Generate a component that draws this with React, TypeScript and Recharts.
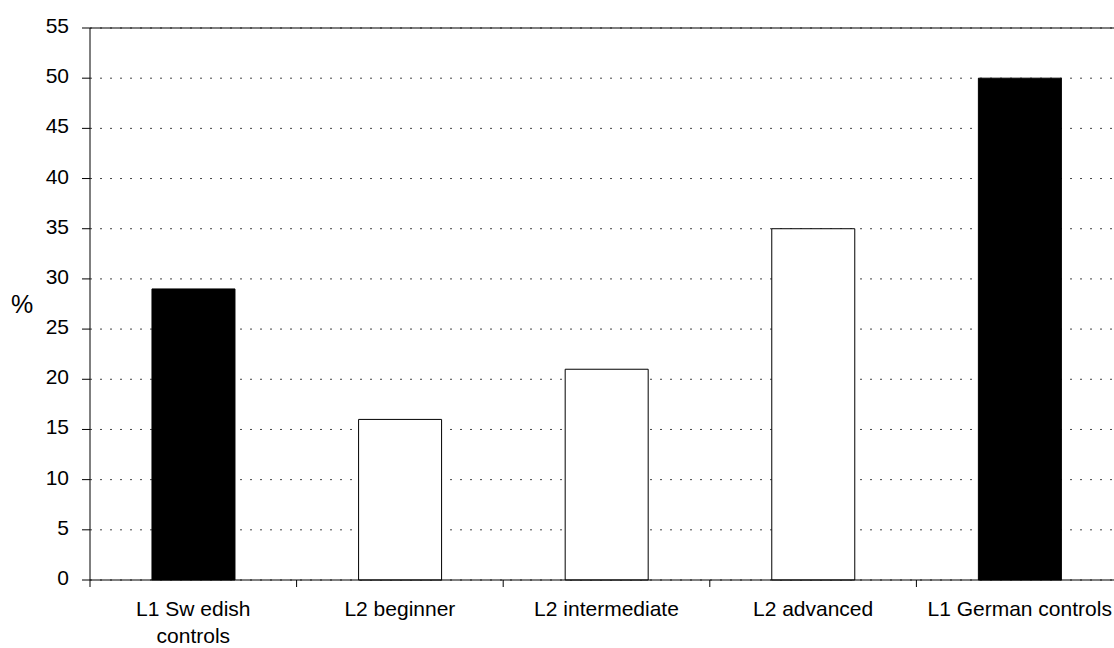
import { Bar, BarChart, CartesianGrid, Cell, ReferenceLine, XAxis, YAxis } from 'recharts';

/* ─────────────────────── data ─────────────────────── */

const categories = [
  'L1 Sw edish\ncontrols',
  'L2 beginner',
  'L2 intermediate',
  'L2 advanced',
  'L1 German controls',
];
const groups = ['L1', 'L2', 'L2', 'L2', 'L1'];
const percentValues = [29, 16, 21, 35, 50];
const yTicks = [0, 5, 10, 15, 20, 25, 30, 35, 40, 45, 50, 55];

const chartData = categories.map((name, i) => ({
  name,
  group: groups[i],
  value: percentValues[i],
}));

/* ─────────────────────── layout ─────────────────────── */

const CHART_W = 1130;
const CHART_H = 648;
const Y_AXIS_W = 90;
const MARGIN = { top: 28, right: 7, left: 0, bottom: 0 };
const CAT_W = (CHART_W - Y_AXIS_W - MARGIN.left - MARGIN.right) / categories.length;
const FONT = '"Liberation Sans", Arial, sans-serif';

interface TickProps {
  x?: number;
  y?: number;
  payload?: { value: string | number; index?: number };
  index?: number;
}

// Excel-style ticks: marks sit on category boundaries, labels centred under bars
function XTick({ x = 0, y = 0, payload, index }: TickProps) {
  const lines = String(payload?.value ?? '').split('\n');
  const idx = index ?? payload?.index ?? 0;
  return (
    <g>
      {idx === 0 && (
        <line x1={x - CAT_W / 2} x2={x - CAT_W / 2} y1={y} y2={y + 7} stroke="#000" />
      )}
      <line x1={x + CAT_W / 2} x2={x + CAT_W / 2} y1={y} y2={y + 7} stroke="#000" />
      <text x={x} y={y} textAnchor="middle" fill="#000" fontSize={21} fontFamily={FONT}>
        {lines.map((line, i) => (
          <tspan key={line} x={x} dy={i === 0 ? 36 : 27}>
            {line}
          </tspan>
        ))}
      </text>
    </g>
  );
}

function YTick({ x = 0, y = 0, payload }: TickProps) {
  return (
    <text x={x} y={y} dy={5} textAnchor="end" fill="#000" fontSize={21} fontFamily={FONT}>
      {payload?.value}
    </text>
  );
}

export default function App() {
  return (
    <div
      style={{
        position: 'absolute',
        left: 0,
        top: 0,
        width: 1114,
        height: 648,
        overflow: 'hidden',
        background: '#fff',
        fontFamily: FONT,
      }}
    >
      <BarChart
        width={CHART_W}
        height={CHART_H}
        data={chartData}
        margin={MARGIN}
        barCategoryGap="30%"
      >
        <CartesianGrid
          vertical={false}
          stroke="#444"
          strokeDasharray="2 8"
          horizontalValues={yTicks}
        />
        <XAxis
          dataKey="name"
          interval={0}
          height={68}
          tickSize={0}
          tickMargin={0}
          tickLine={false}
          axisLine={{ stroke: '#000' }}
          tick={<XTick />}
        />
        <YAxis
          width={Y_AXIS_W}
          domain={[0, 55]}
          ticks={yTicks}
          interval={0}
          tickSize={8}
          tickMargin={13}
          tickLine={{ stroke: '#000' }}
          axisLine={{ stroke: '#000' }}
          tick={<YTick />}
          label={{
            value: '%',
            position: 'insideLeft',
            offset: 11,
            fill: '#000',
            fontSize: 25,
            fontFamily: FONT,
          }}
        />
        <ReferenceLine y={55} stroke="#000" strokeWidth={1} />
        <Bar dataKey="value" isAnimationActive={false}>
          {chartData.map((d) => (
            <Cell
              key={d.name}
              fill={d.group === 'L1' ? '#000' : '#fff'}
              stroke="#000"
              strokeWidth={1}
            />
          ))}
        </Bar>
      </BarChart>
    </div>
  );
}
